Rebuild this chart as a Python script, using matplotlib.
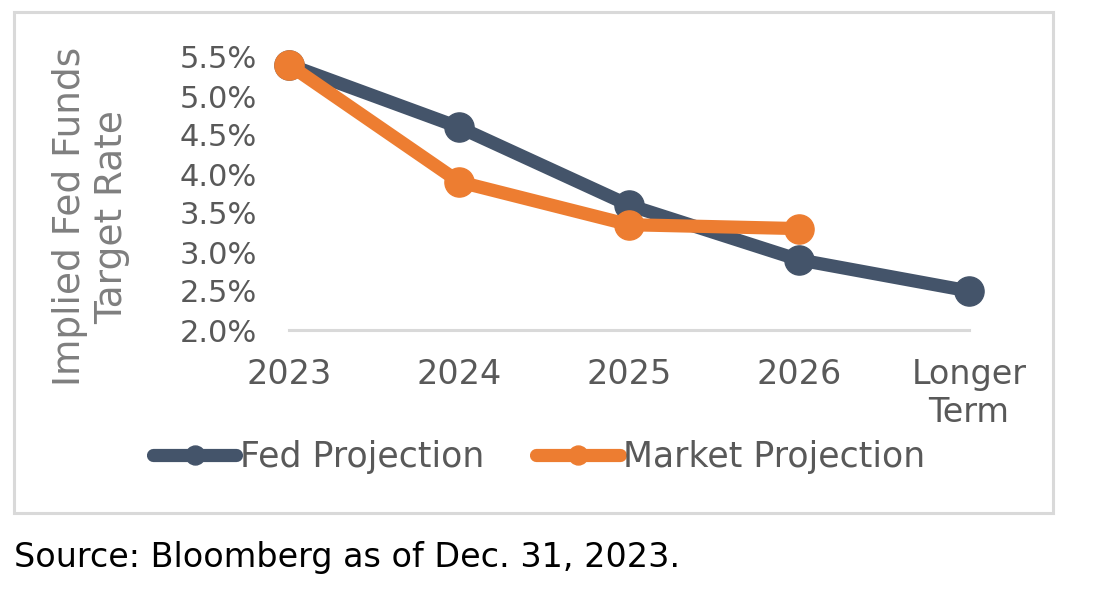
import matplotlib
matplotlib.use("Agg")
import matplotlib.pyplot as plt
from matplotlib.patches import Rectangle
from matplotlib.ticker import PercentFormatter

years = ["2023", "2024", "2025", "2026", "Longer\nTerm"]
fed = [5.4, 4.6, 3.6, 2.9, 2.5]
market = [5.4, 3.9, 3.35, 3.3]

plt.rcParams['font.family'] = ['DejaVu Sans']

fig = plt.figure(figsize=(10.98, 5.92), dpi=100)

# grey frame around the chart
fig.patches.append(Rectangle((14/1098, 1-513/592), (1053-14)/1098, (513-12)/592,
                             transform=fig.transFigure, fill=False,
                             edgecolor='#d9d9d9', linewidth=2.2))

ax = fig.add_axes([289/1098, 1-330/592, (969-289)/1098, (330-57)/592])
x = list(range(len(years)))
ax.plot(x, fed, color='#44546A', lw=9.5, marker='o', ms=21, label='Fed Projection',
        solid_capstyle='round', clip_on=False, zorder=2)
ax.plot(x[:len(market)], market, color='#ED7D31', lw=9.5, marker='o', ms=21,
        label='Market Projection', solid_capstyle='round', clip_on=False, zorder=3)

ax.set_xlim(0, 4)
ax.set_ylim(2.0, 5.5)
ax.set_yticks([2.0, 2.5, 3.0, 3.5, 4.0, 4.5, 5.0, 5.5])
ax.yaxis.set_major_formatter(PercentFormatter(decimals=1))
ax.set_xticks(x)
ax.set_xticklabels(years)
for s in ['top', 'right', 'left']:
    ax.spines[s].set_visible(False)
ax.spines['bottom'].set_color('#d9d9d9')
ax.spines['bottom'].set_linewidth(2.2)
ax.tick_params(axis='both', length=0, labelcolor='#595959')
ax.tick_params(axis='x', pad=20, labelsize=24)
ax.tick_params(axis='y', pad=23, labelsize=22)
ax.set_ylabel("Implied Fed Funds\nTarget Rate", fontsize=27, color='#7f7f7f',
              linespacing=1.2)
ax.yaxis.set_label_coords((130-289)/680, 0.415)

fig.legend(loc='center', bbox_to_anchor=(0.491, 0.228), ncol=2, frameon=False,
           fontsize=25, labelcolor='#595959', handlelength=2.4, handletextpad=0.1,
           columnspacing=1.5, markerscale=0.65)

fig.text(14/1098, 1-558/592, "Source: Bloomberg as of Dec. 31, 2023.", fontsize=24,
         color='black', va='center', ha='left')

fig.savefig("out.png", dpi=100)
